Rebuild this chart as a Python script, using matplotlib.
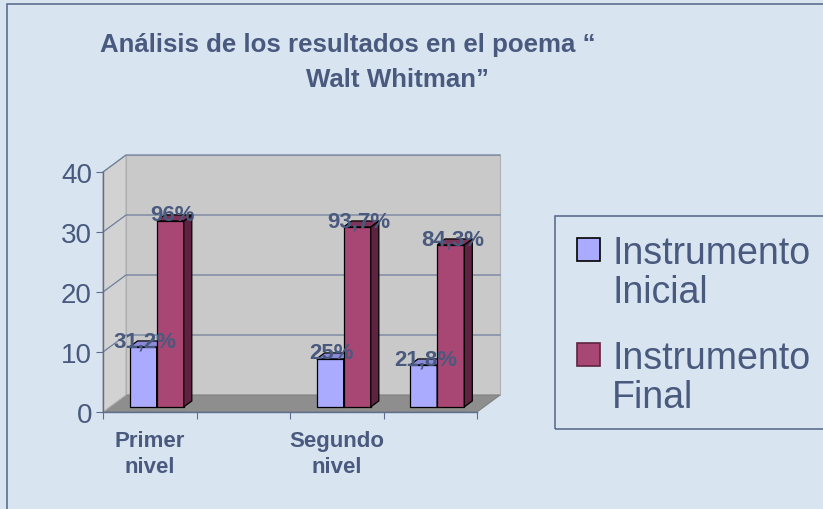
import numpy as np
import matplotlib
matplotlib.use("Agg")
import matplotlib.pyplot as plt
from matplotlib.patches import Polygon, Rectangle

plt.rcParams['font.family'] = ['Liberation Sans', 'DejaVu Sans']

# data
categories = ["Primer\nnivel", "", "Segundo\nnivel", ""]
series = ["Instrumento\nInicial", "Instrumento\nFinal"]
inicial = [10, np.nan, 8, 7]
final = [31, np.nan, 30, 27]
inicial_labels = ["31,2%", "", "25%", "21,8%"]
final_labels = ["96%", "", "93,7%", "84,3%"]
yticks = [0, 10, 20, 30, 40]

W, H = 823, 510
txt = '#495A7E'
axc = '#5E6E8E'
bg = '#D9E4F1'

fig = plt.figure(figsize=(W / 100, H / 100), dpi=100, facecolor=bg)
fig.add_artist(Rectangle((7 / W, -0.02), 1.1, 1.02 - 5 / H, transform=fig.transFigure,
                         fill=False, ec=axc, lw=1.2))

ax = fig.add_axes([103 / W, 97 / H, 374 / W, 240 / H])
ax.set_xlim(0, 4)
ax.set_ylim(0, 40)
ax.patch.set_visible(False)

# 3d offsets (data units)
DX = 23 / 93.5
DY = 17 / 6.0
F0 = 0.30   # depth of bar front
D = 0.35    # bar depth
BW = 0.29   # bar width

wall_kw = dict(clip_on=False, zorder=1)
ax.add_patch(Polygon([(DX, DY), (4 + DX, DY), (4 + DX, 40 + DY), (DX, 40 + DY)],
                     fc='#C9C9C9', ec='#B0B0B0', lw=0.8, **wall_kw))
ax.add_patch(Polygon([(0, 0), (4, 0), (4 + DX, DY), (DX, DY)],
                     fc='#8E8E8E', ec='#808080', lw=0.8, **wall_kw))
ax.add_patch(Polygon([(0, 0), (DX, DY), (DX, 40 + DY), (0, 40)],
                     fc='#D2D2D2', ec='#B0B0B0', lw=0.8, **wall_kw))
for v in yticks[1:]:
    ax.plot([0, DX, 4 + DX], [v, v + DY, v + DY], color='#6F7F9C', lw=0.9,
            clip_on=False, zorder=2)


def draw_series(offset, vals, labels, front, side, top):
    x0 = np.arange(len(vals)) + 0.5 + offset + F0 * DX
    b = F0 * DY
    ax.bar(x0, vals, width=BW, bottom=b, align='edge', color=front,
           edgecolor='black', lw=0.9, zorder=4, clip_on=False)
    for xl, v, lab in zip(x0, vals, labels):
        if np.isnan(v):
            continue
        xr = xl + BW
        ax.add_patch(Polygon([(xr, b), (xr + D * DX, b + D * DY),
                              (xr + D * DX, b + v + D * DY), (xr, b + v)],
                             fc=side, ec='black', lw=0.9, zorder=4, clip_on=False))
        ax.add_patch(Polygon([(xl, b + v), (xr, b + v), (xr + D * DX, b + v + D * DY),
                              (xl + D * DX, b + v + D * DY)],
                             fc=top, ec='black', lw=0.9, zorder=4, clip_on=False))
        ax.text(xl + BW / 2 + 0.02, b + v + 0.1, lab, ha='center', va='baseline',
                fontsize=16, fontweight='bold', color=txt, zorder=6)


draw_series(-BW, inicial, inicial_labels, '#AAAAFF', '#7474BE', '#8A8AD8')
draw_series(0, final, final_labels, '#A94774', '#5E2340', '#7E3458')

# axes styling
for s in ['top', 'right']:
    ax.spines[s].set_visible(False)
for s in ['left', 'bottom']:
    ax.spines[s].set_color(axc)
    ax.spines[s].set_linewidth(1.0)
    ax.spines[s].set_zorder(3)
ax.set_yticks(yticks)
ax.tick_params(axis='y', length=5, color=axc, labelsize=20, labelcolor=txt, pad=3)
ax.set_xticks(np.arange(5))
ax.set_xticklabels([])
ax.tick_params(axis='x', which='major', length=5, color=axc)
ax.set_xticks(np.arange(len(categories)) + 0.5, minor=True)
ax.set_xticklabels(categories, minor=True, fontsize=16, fontweight='bold', color=txt,
                   linespacing=1.3)
ax.tick_params(axis='x', which='minor', length=0, pad=13)

# title
fig.text(348 / W, 1 - 52 / H, "Análisis de los resultados en el poema “", ha='center',
         va='baseline', fontsize=18.6, fontweight='bold', color=txt)
fig.text(397 / W, 1 - 87 / H, "Walt Whitman”", ha='center', va='baseline',
         fontsize=18.6, fontweight='bold', color=txt)

# legend
fig.add_artist(Rectangle((555 / W, 80 / H), 0.5, (430 - 217) / H, transform=fig.transFigure,
                         fill=False, ec=axc, lw=1.2))
for i, (name, fc, ec) in enumerate(zip(series, ['#AAAAFF', '#A94774'], ['black', '#5E2340'])):
    top = 239 + i * 105
    fig.add_artist(Rectangle((577 / W, 1 - (top + 23) / H), 23 / W, 23 / H,
                             transform=fig.transFigure, fc=fc, ec=ec, lw=1.2))
    fig.text(612 / W, 1 - (top + 64) / H, name, ha='left', va='baseline', fontsize=27,
             color=txt, linespacing=1.12)

fig.savefig('out.png', dpi=100, facecolor=bg)
